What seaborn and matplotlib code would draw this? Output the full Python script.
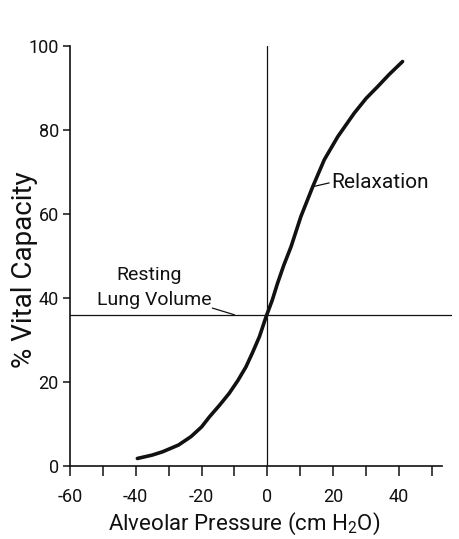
import matplotlib
matplotlib.use("Agg")
import matplotlib.pyplot as plt
import seaborn as sns
import pandas as pd

# Data
pressure = [-39.5, -35, -31.8, -27, -23.2, -20, -17.6, -14.5, -11.6, -9, -6.5, -4.5, -2.4,
            -0.4, 1.5, 3.1, 5, 7.2, 10.2, 13.8, 17.3, 21.4, 26.4, 30, 33.5, 37, 41.1]
vital_capacity = [1.8, 2.6, 3.4, 5.0, 7.0, 9.3, 11.7, 14.5, 17.3, 20.3, 23.6, 27.0, 30.8,
                  35.5, 39.5, 43.5, 47.8, 52.2, 59.4, 66.5, 72.9, 78.4, 84.0, 87.5, 90.3, 93.2, 96.3]
resting_volume = 36
x_ticks = [-60, -40, -20, 0, 20, 40]
x_minor = [-50, -30, -10, 10, 30, 50]
y_ticks = [0, 20, 40, 60, 80, 100]

sns.set_theme(style="ticks")
plt.rcParams["font.family"] = ["Roboto", "DejaVu Sans"]
plt.rcParams["mathtext.fontset"] = "custom"
plt.rcParams["mathtext.rm"] = "Roboto"
plt.rcParams["mathtext.default"] = "rm"
plt.rcParams["axes.unicode_minus"] = False

ink = "#111111"
fig = plt.figure(figsize=(4.6, 5.39), dpi=100)
ax = fig.add_axes([0.152, 0.1354, 0.8297, 0.7793])

df = pd.DataFrame({"p": pressure, "v": vital_capacity})
sns.lineplot(data=df, x="p", y="v", ax=ax, color=ink, linewidth=2.6, sort=True,
             solid_joinstyle="round", solid_capstyle="round")

ax.axhline(resting_volume, color=ink, linewidth=0.9)
ax.axvline(0, color=ink, linewidth=0.9)

ax.set_xlim(-60, 56)
ax.set_ylim(0, 100)
ax.set_xticks(x_ticks)
ax.set_xticks(x_minor, minor=True)
ax.set_yticks(y_ticks)
ax.tick_params(axis="both", which="both", direction="out", color=ink, width=1.1)
ax.tick_params(axis="x", which="major", length=7, pad=9, labelsize=13, labelcolor=ink)
ax.tick_params(axis="x", which="minor", length=7)
ax.tick_params(axis="y", which="major", length=5, pad=3, labelsize=13, labelcolor=ink)

sns.despine(ax=ax)
ax.spines["bottom"].set_bounds(-60, 53)
for s in ("left", "bottom"):
    ax.spines[s].set_color(ink)
    ax.spines[s].set_linewidth(1.2)

ax.set_xlabel("Alveolar Pressure (cm H$_2$O)", fontsize=16, color=ink, va="center")
ax.xaxis.set_label_coords(0.456, -0.138)
ax.set_ylabel("% Vital Capacity", fontsize=20, color=ink, va="center")
ax.yaxis.set_label_coords(-0.118, 0.467)

# annotations
ax.text(-35.9, 45.5, "Resting", ha="center", va="center", fontsize=14, color=ink)
ax.text(-34.5, 39.5, "Lung Volume", ha="center", va="center", fontsize=14, color=ink)
ax.plot([-16.7, -10.0], [37.6, 36.0], color=ink, linewidth=0.9)
ax.plot([13.8, 18.8], [66.5, 67.4], color=ink, linewidth=0.9)
ax.text(19.5, 67.6, "Relaxation", ha="left", va="center", fontsize=15, color=ink)

fig.savefig("out.png", dpi=100, facecolor="white")
